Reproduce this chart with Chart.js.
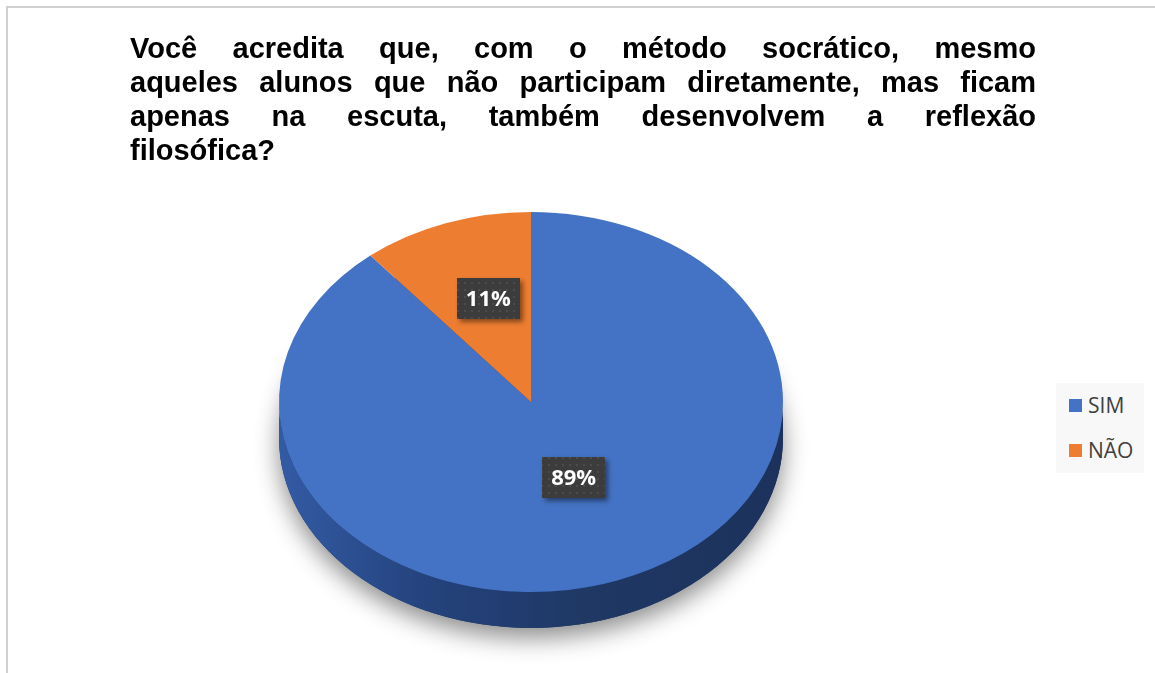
<!DOCTYPE html>
<html>
<head>
<meta charset="utf-8">
<script src="https://cdn.jsdelivr.net/npm/chart.js@4.4.0/dist/chart.umd.min.js"></script>
<style>
html,body{margin:0;padding:0;background:#fff;width:1155px;height:673px;overflow:hidden;}
#frame{position:absolute;left:6px;top:6px;width:1300px;height:900px;border:2px solid #d0d0d0;box-sizing:border-box;}
#c{position:absolute;left:0;top:0;}
#title{position:absolute;left:130px;top:31px;width:906px;font-family:"Liberation Sans",Arial,sans-serif;font-weight:bold;font-size:29px;line-height:34px;color:#000;}
#title div{white-space:nowrap;height:34px;}
#legend{position:absolute;left:1056px;top:383px;width:88px;height:90px;background:#f8f8f8;}
.li{position:absolute;left:13px;font-family:"Open Sans",sans-serif;font-size:21px;line-height:28px;color:#404040;}
.sw{position:absolute;width:13px;height:13px;}
</style>
</head>
<body>
<div id="frame"></div>
<canvas id="c" width="1155" height="673"></canvas>
<div id="title"></div>
<div id="legend"></div>
<script>
const titleLines = [
  'Você acredita que, com o método socrático, mesmo',
  'aqueles alunos que não participam diretamente, mas ficam',
  'apenas na escuta, também desenvolvem a reflexão',
  'filosófica?'
];
const categories = ['SIM', 'NÃO'];
const values = [89, 11];
const colors = ['#4472C4', '#ED7D31'];
const sideStops = [
  ['#335ba4', '#24427c', '#1f3864', '#1c325c'],
  ['#c5642a', '#a85420', '#8f461a', '#7f3e17']
];

const TILT = 190 / 252;
const DEPTH = 36;
const LABEL_SHIFT = -14;
const LABEL_F = 0.5;

// Title with manual justification
const titleEl = document.getElementById('title');
titleLines.forEach((t, i) => {
  const d = document.createElement('div');
  const s = document.createElement('span');
  s.textContent = t;
  d.appendChild(s);
  titleEl.appendChild(d);
  if (i < titleLines.length - 1) {
    const w = s.getBoundingClientRect().width;
    const n = (t.match(/ /g) || []).length;
    if (n > 0) s.style.wordSpacing = ((906 - w) / n) + 'px';
  }
});

// Legend
const legendEl = document.getElementById('legend');
categories.forEach((c, i) => {
  const sw = document.createElement('div');
  sw.className = 'sw';
  sw.style.left = '13px';
  sw.style.top = (16 + i * 45) + 'px';
  sw.style.background = colors[i];
  legendEl.appendChild(sw);
  const tx = document.createElement('div');
  tx.className = 'li';
  tx.style.left = '32px';
  tx.style.top = (8 + i * 45) + 'px';
  tx.textContent = c;
  legendEl.appendChild(tx);
});

function makePattern(ctx) {
  const p = document.createElement('canvas');
  p.width = 7; p.height = 7;
  const pc = p.getContext('2d');
  pc.fillStyle = '#3c3c3c';
  pc.fillRect(0, 0, 7, 7);
  pc.fillStyle = '#4c4c4c';
  pc.fillRect(2, 2, 2, 2);
  return ctx.createPattern(p, 'repeat');
}

function visibleRanges(s, e) {
  const TAU = Math.PI * 2;
  const s0 = ((s % TAU) + TAU) % TAU;
  const e0 = s0 + (e - s);
  const out = [];
  [[0, Math.PI], [TAU, TAU + Math.PI]].forEach(([a, b]) => {
    const lo = Math.max(a, s0), hi = Math.min(b, e0);
    if (hi > lo) out.push([lo, hi]);
  });
  return out;
}

const pie3d = {
  id: 'pie3d',
  beforeDatasetsDraw(chart) {
    const ctx = chart.ctx;
    const meta = chart.getDatasetMeta(0);
    const a0 = meta.data[0];
    const cx = a0.x, cy = a0.y, r = a0.outerRadius, ry = r * TILT;

    // shadow base
    ctx.save();
    ctx.shadowColor = 'rgba(0,0,0,0.45)';
    ctx.shadowBlur = 24;
    ctx.shadowOffsetY = 10;
    ctx.fillStyle = '#1f3864';
    ctx.beginPath();
    ctx.ellipse(cx, cy + DEPTH, r, ry, 0, 0, Math.PI * 2);
    ctx.fill();
    ctx.restore();

    // sides
    meta.data.forEach((arc, i) => {
      const g = ctx.createLinearGradient(cx - r, 0, cx + r, 0);
      const st = sideStops[i];
      g.addColorStop(0, st[0]);
      g.addColorStop(0.3, st[1]);
      g.addColorStop(0.6, st[2]);
      g.addColorStop(1, st[3]);
      visibleRanges(arc.startAngle, arc.endAngle).forEach(([a, b]) => {
        ctx.beginPath();
        ctx.ellipse(cx, cy, r, ry, 0, a, b);
        ctx.ellipse(cx, cy + DEPTH, r, ry, 0, b, a, true);
        ctx.closePath();
        ctx.fillStyle = g;
        ctx.fill();
      });
    });

    ctx.save();
    ctx.translate(cx, cy);
    ctx.scale(1, TILT);
    ctx.translate(-cx, -cy);
  },
  afterDatasetsDraw(chart) {
    const ctx = chart.ctx;
    ctx.restore();
    const meta = chart.getDatasetMeta(0);
    const pat = makePattern(ctx);
    meta.data.forEach((arc, i) => {
      const mid = (arc.startAngle + arc.endAngle) / 2;
      const x = arc.x + Math.cos(mid) * arc.outerRadius * LABEL_F;
      const y = arc.y + LABEL_SHIFT + Math.sin(mid) * arc.outerRadius * LABEL_F * TILT;
      const w = 63, h = 41;
      ctx.save();
      ctx.shadowColor = 'rgba(0,0,0,0.45)';
      ctx.shadowBlur = 5;
      ctx.shadowOffsetX = 3;
      ctx.shadowOffsetY = 3;
      ctx.fillStyle = pat;
      ctx.fillRect(Math.round(x - w / 2), Math.round(y - h / 2), w, h);
      ctx.restore();
      ctx.save();
      ctx.fillStyle = '#ffffff';
      ctx.font = 'bold 22px "Open Sans", sans-serif';
      ctx.textAlign = 'center';
      ctx.textBaseline = 'middle';
      ctx.fillText(values[i] + '%', x, y + 1);
      ctx.restore();
    });
  }
};

new Chart(document.getElementById('c').getContext('2d'), {
  type: 'pie',
  data: {
    labels: categories,
    datasets: [{ data: values, backgroundColor: colors, borderWidth: 0, hoverOffset: 0 }]
  },
  options: {
    responsive: false,
    animation: false,
    events: [],
    layout: { padding: { left: 279, right: 372, top: 150, bottom: 19 } },
    plugins: { legend: { display: false }, tooltip: { enabled: false } }
  },
  plugins: [pie3d]
});
</script>
</body>
</html>
